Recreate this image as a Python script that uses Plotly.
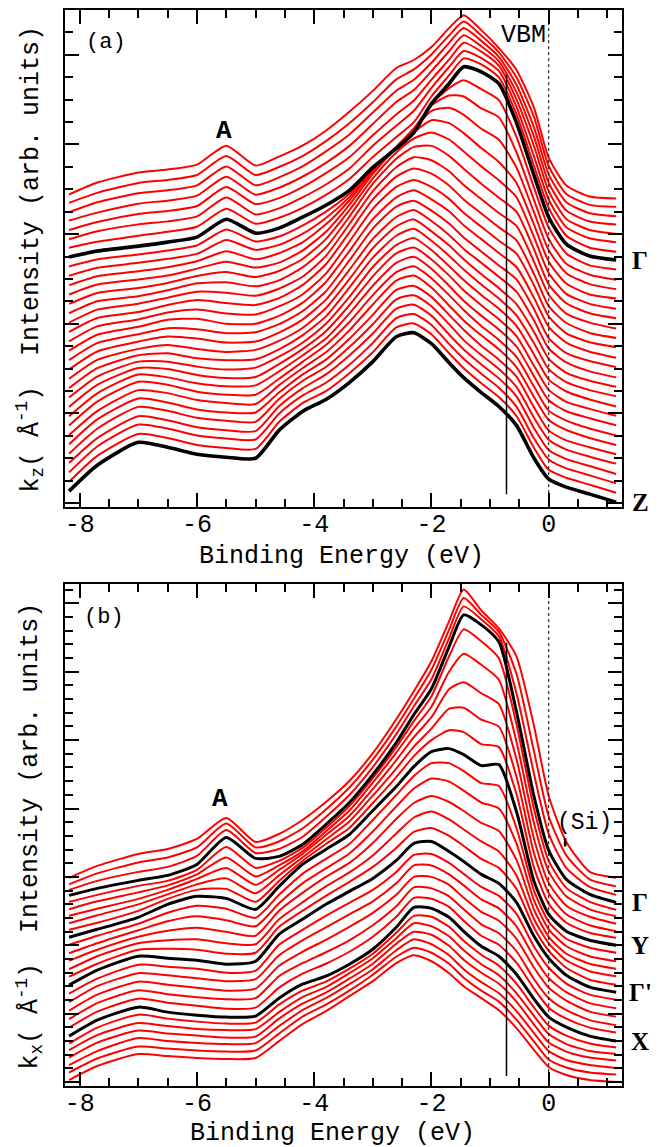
import plotly.graph_objects as go

energy = [-8.18, -7.7, -7.0, -6.5, -6.0, -5.5, -5.0, -4.6, -4.2, -3.8, -3.4, -3.0, -2.6,
          -2.3, -2.0, -1.7, -1.45, -1.15, -0.85, -0.55, -0.25, 0.0, 0.3, 0.7, 1.15]

# (a) kz series, top spectrum first, Z last (intensity, arb. units)
kz_spectra = [
    [13, 25, 35, 38, 43, 62, 42, 51, 62, 77, 96, 117, 140, 148, 161, 180, 193, 178, 160, 138, 100, 50, 22, 11, 9],
    [14, 24, 34, 37, 42, 61, 42, 50, 61, 76, 94, 115, 138, 148, 163, 182, 196, 182, 165, 140, 100, 51, 23, 12, 10],
    [14, 24, 33, 36, 41, 60, 41, 49, 60, 75, 92, 114, 136, 147, 164, 184, 199, 186, 170, 142, 99, 52, 24, 13, 10],
    [15, 23, 32, 35, 40, 59, 41, 48, 59, 73, 90, 112, 134, 146, 165, 185, 201, 190, 175, 144, 99, 53, 25, 14, 11],
    [15, 23, 31, 34, 39, 58, 41, 47, 58, 72, 88, 110, 131, 145, 166, 186, 203, 194, 180, 146, 99, 54, 26, 15, 11],
    [15, 23, 30, 33, 38, 57, 40, 46, 57, 70, 86, 109, 129, 144, 167, 188, 204, 197, 184, 148, 98, 55, 27, 16, 12],
    [16, 22, 28, 32, 37, 55, 40, 46, 56, 69, 85, 107, 127, 142, 168, 189, 206, 200, 187, 150, 98, 56, 28, 16, 12],
    [16, 22, 27, 31, 36, 54, 40, 45, 56, 68, 83, 106, 125, 141, 170, 190, 207, 202, 190, 151, 98, 56, 29, 17, 13],
    [16, 23, 28, 32, 37, 53, 41, 46, 57, 71, 89, 114, 135, 153, 179, 195, 203, 194, 183, 146, 95, 55, 29, 17, 13],
    [16, 24, 29, 33, 38, 52, 42, 47, 58, 74, 95, 122, 145, 164, 187, 197, 196, 184, 175, 140, 92, 53, 28, 17, 12],
    [16, 25, 30, 34, 40, 50, 42, 48, 59, 77, 101, 130, 155, 173, 191, 194, 187, 173, 162, 134, 89, 51, 28, 17, 12],
    [16, 26, 31, 35, 42, 49, 43, 48, 60, 79, 106, 137, 163, 179, 191, 188, 178, 163, 149, 128, 86, 49, 27, 16, 12],
    [16, 27, 32, 37, 44, 48, 43, 49, 61, 81, 110, 142, 168, 182, 188, 181, 169, 154, 140, 123, 83, 47, 26, 16, 11],
    [16, 28, 33, 39, 46, 47, 43, 49, 62, 82, 113, 146, 171, 183, 184, 174, 161, 146, 132, 118, 80, 45, 26, 16, 11],
    [16, 29, 35, 41, 47, 46, 43, 50, 62, 83, 115, 148, 172, 182, 179, 168, 154, 140, 126, 113, 77, 44, 25, 16, 10],
    [16, 30, 36, 43, 48, 45, 43, 50, 63, 84, 116, 149, 172, 180, 175, 163, 149, 135, 121, 108, 74, 42, 25, 15, 10],
    [16, 31, 38, 45, 48, 44, 43, 51, 63, 84, 116, 149, 171, 178, 171, 159, 145, 131, 117, 104, 72, 41, 24, 15, 10],
    [16, 32, 40, 47, 48, 43, 43, 51, 64, 85, 116, 148, 170, 177, 168, 156, 142, 128, 114, 100, 69, 40, 24, 15, 9],
    [16, 33, 42, 48, 47, 43, 44, 52, 65, 85, 116, 148, 170, 176, 166, 153, 139, 125, 111, 97, 67, 38, 23, 15, 9],
    [16, 34, 44, 49, 47, 43, 44, 53, 66, 86, 116, 147, 169, 176, 165, 151, 137, 123, 109, 94, 65, 37, 23, 14, 8],
    [16, 35, 46, 50, 46, 43, 45, 54, 67, 87, 116, 147, 169, 176, 164, 150, 136, 121, 107, 91, 63, 36, 22, 14, 8],
    [16, 36, 49, 51, 46, 44, 45, 55, 69, 88, 117, 147, 169, 176, 164, 149, 135, 120, 106, 89, 61, 35, 22, 14, 8],
    [16, 37, 52, 52, 47, 44, 46, 57, 71, 90, 117, 147, 169, 176, 164, 148, 134, 119, 105, 88, 59, 34, 22, 14, 7],
    [16, 38, 55, 54, 48, 45, 46, 59, 74, 92, 118, 147, 170, 176, 164, 148, 133, 118, 104, 87, 57, 33, 21, 14, 7],
    [16, 39, 58, 55, 49, 46, 47, 61, 77, 94, 119, 147, 170, 176, 164, 147, 132, 117, 103, 86, 56, 32, 21, 14, 7],
    [16, 40, 60, 57, 50, 47, 47, 63, 80, 97, 120, 147, 170, 176, 164, 147, 132, 116, 102, 85, 55, 31, 21, 13, 6],
    [16, 40, 61, 58, 51, 48, 47, 66, 83, 99, 121, 147, 171, 176, 164, 146, 131, 116, 102, 84, 54, 31, 21, 13, 6],
    [16, 41, 62, 58, 51, 48, 48, 68, 86, 101, 122, 146, 171, 175, 164, 146, 131, 115, 101, 84, 53, 30, 20, 13, 6],
    [16, 41, 63, 59, 52, 49, 48, 71, 89, 103, 123, 146, 171, 175, 164, 146, 130, 115, 101, 83, 52, 30, 20, 13, 6],
    [16, 41, 63, 59, 52, 49, 48, 73, 91, 105, 124, 146, 171, 175, 164, 145, 130, 115, 101, 83, 51, 29, 20, 13, 5],
    [16, 42, 64, 60, 53, 50, 49, 75, 93, 106, 124, 146, 171, 175, 164, 145, 130, 115, 101, 82, 50, 29, 20, 13, 5],
    [16, 42, 64, 60, 53, 50, 49, 76, 95, 107, 125, 146, 171, 175, 164, 145, 130, 115, 101, 82, 50, 28, 20, 13, 5],
    [16, 42, 65, 60, 53, 50, 49, 77, 96, 108, 125, 146, 171, 175, 164, 145, 130, 115, 101, 82, 49, 28, 20, 13, 5],
]
kz_black = [7, 32]          # Gamma, Z
kz_labels = {7: "Γ", 32: "Z"}
kz_step = 9.4

# (b) kx series, top spectrum first
kx_spectra = [
    [6, 18, 30, 35, 45, 66, 42, 50, 64, 82, 103, 131, 165, 193, 223, 263, 295, 274, 256, 228, 158, 88, 42, 12, 6],
    [7, 18, 29, 34, 44, 68, 44, 50, 63, 82, 104, 132, 165, 193, 222, 262, 294, 277, 260, 218, 140, 75, 36, 12, 5],
    [9, 18, 27, 32, 43, 69, 46, 50, 62, 82, 104, 132, 165, 193, 220, 261, 293, 280, 263, 206, 125, 65, 31, 12, 4],
    [11, 18, 26, 31, 42, 69, 48, 50, 62, 82, 104, 132, 164, 192, 218, 260, 292, 282, 265, 195, 110, 56, 27, 12, 4],
    [12, 19, 28, 33, 44, 67, 46, 53, 66, 86, 108, 136, 167, 193, 218, 258, 285, 273, 256, 190, 105, 53, 26, 12, 4],
    [12, 20, 29, 36, 47, 64, 45, 56, 70, 90, 111, 139, 169, 193, 215, 250, 268, 257, 242, 180, 98, 50, 25, 12, 5],
    [13, 20, 30, 39, 50, 61, 44, 59, 75, 94, 113, 140, 169, 192, 212, 240, 247, 236, 225, 170, 90, 46, 23, 12, 5],
    [13, 21, 32, 42, 52, 58, 43, 61, 79, 97, 115, 141, 168, 190, 208, 228, 229, 217, 210, 160, 83, 43, 22, 11, 5],
    [14, 21, 33, 45, 54, 55, 42, 63, 83, 100, 116, 141, 167, 188, 204, 214, 212, 200, 197, 150, 76, 40, 21, 11, 6],
    [14, 22, 34, 47, 55, 53, 42, 65, 87, 102, 117, 141, 165, 185, 200, 203, 197, 186, 187, 140, 70, 37, 20, 11, 6],
    [14, 23, 35, 46, 53, 50, 41, 64, 85, 100, 115, 139, 164, 183, 196, 196, 188, 176, 173, 131, 68, 37, 20, 11, 6],
    [13, 23, 36, 45, 50, 46, 40, 63, 83, 98, 113, 135, 160, 178, 188, 185, 176, 164, 158, 123, 66, 37, 20, 10, 5],
    [13, 24, 37, 43, 46, 42, 38, 63, 81, 97, 111, 131, 155, 171, 178, 172, 163, 151, 143, 114, 64, 37, 20, 10, 5],
    [12, 25, 38, 41, 42, 38, 37, 62, 79, 95, 109, 126, 148, 164, 170, 162, 152, 140, 130, 106, 62, 38, 21, 10, 5],
    [12, 25, 39, 40, 39, 35, 36, 62, 78, 93, 107, 122, 141, 157, 161, 153, 143, 130, 121, 100, 61, 38, 21, 9, 4],
    [11, 26, 40, 38, 36, 32, 35, 62, 77, 92, 105, 118, 136, 153, 155, 145, 135, 122, 113, 94, 60, 38, 21, 9, 4],
    [10, 25, 39, 37, 35, 31, 33, 59, 74, 88, 101, 114, 132, 149, 150, 141, 130, 117, 108, 90, 57, 36, 20, 9, 4],
    [9, 25, 38, 36, 33, 30, 32, 56, 71, 84, 97, 110, 128, 146, 146, 137, 126, 112, 103, 85, 54, 33, 19, 8, 3],
    [8, 24, 37, 34, 31, 28, 30, 53, 67, 79, 92, 106, 124, 142, 142, 134, 121, 107, 98, 80, 51, 31, 18, 7, 2],
    [7, 23, 36, 32, 29, 27, 28, 50, 63, 74, 86, 101, 120, 139, 138, 130, 117, 102, 93, 75, 47, 28, 16, 6, 1],
    [6, 22, 35, 31, 28, 25, 26, 46, 60, 70, 82, 97, 117, 136, 135, 127, 113, 98, 89, 71, 45, 26, 15, 6, 1],
    [5, 21, 34, 29, 26, 24, 25, 43, 57, 65, 77, 92, 114, 134, 133, 124, 110, 95, 85, 67, 42, 24, 14, 5, 0],
    [5, 21, 34, 30, 27, 25, 26, 44, 58, 67, 80, 95, 116, 133, 132, 122, 108, 94, 83, 65, 41, 23, 13, 5, 1],
    [6, 21, 33, 30, 27, 26, 27, 44, 59, 69, 83, 98, 118, 133, 130, 120, 106, 92, 81, 63, 40, 22, 12, 5, 2],
    [6, 21, 33, 30, 28, 26, 27, 45, 60, 71, 85, 100, 120, 132, 129, 118, 104, 91, 80, 62, 39, 21, 12, 6, 3],
    [6, 20, 33, 30, 28, 27, 28, 45, 61, 73, 87, 102, 121, 132, 127, 116, 102, 89, 78, 60, 38, 20, 11, 6, 3],
    [6, 20, 32, 30, 28, 27, 28, 45, 62, 74, 88, 104, 122, 131, 126, 115, 101, 88, 77, 59, 37, 19, 11, 6, 4],
    [6, 20, 32, 30, 28, 27, 28, 45, 62, 75, 90, 105, 123, 131, 125, 113, 100, 88, 76, 58, 36, 19, 11, 6, 4],
]
kx_black = [3, 9, 15, 21]   # Gamma, Y, Gamma', X
kx_labels = {3: "Γ", 9: "Y", 15: "Γ'", 21: "X"}
kx_step = 7.5

vbm = -0.72
si_energy = 0.28

mono = "Courier New, Nimbus Mono PS, FreeMono, Liberation Mono, monospace"
serif = "Liberation Serif, Times New Roman, serif"

# page has an 8px body margin, so the figure is sized / placed to compensate
W, H = 656, 1139
L, R, T, B = 57, 42, 0, 61


def px(xp, yp):
    # page pixel -> paper coords
    return (xp - 65) / (W - L - R), (1086 - yp) / (H - T - B)


def add_stack(fig, spectra, step, black, xa, ya, black_width):
    n = len(spectra)
    # red ones first so the black reference spectra sit on top
    order = [k for k in range(n) if k not in black] + list(black)
    for k in order:
        y = [v + (n - 1 - k) * step for v in spectra[k]]
        if k in black:
            line = dict(color="black", width=black_width, shape="spline", smoothing=0.6)
        else:
            line = dict(color="#ff0000", width=2.0, shape="spline", smoothing=0.6)
        fig.add_trace(go.Scatter(x=energy, y=y, mode="lines", line=line,
                                 xaxis=xa, yaxis=ya, hoverinfo="skip", showlegend=False))


def x_axis(anchor):
    return dict(anchor=anchor, range=[-8.25, 1.25],
                tickvals=[-8, -6, -4, -2, 0], ticktext=["-8", "-6", "-4", "-2", "0"],
                ticks="inside", ticklen=14, tickwidth=1.5, tickcolor="black",
                minor=dict(tick0=0, dtick=0.5, ticks="inside", ticklen=8, tickwidth=1.5, tickcolor="black"),
                showline=True, linewidth=2, linecolor="black", mirror="ticks",
                showgrid=False, zeroline=False, ticklabelstandoff=-7,
                tickfont=dict(family=mono, size=25, color="black"))


def y_axis(anchor, domain, top, major, minor):
    return dict(anchor=anchor, domain=domain, range=[0, top],
                tickmode="linear", tick0=4, dtick=major, showticklabels=False,
                ticks="inside", ticklen=14, tickwidth=1.5, tickcolor="black",
                minor=dict(tick0=4, dtick=minor, ticks="inside", ticklen=8, tickwidth=1.5, tickcolor="black"),
                showline=True, linewidth=2, linecolor="black", mirror="ticks",
                showgrid=False, zeroline=False)


fig = go.Figure()
add_stack(fig, kz_spectra, kz_step, kz_black, "x", "y", 3.6)
add_stack(fig, kx_spectra, kx_step, kx_black, "x2", "y2", 3.0)

# VBM marker (solid) and E = 0 (dotted)
for xa, ya, lo, hi, top in [("x", "y", 13, 434, 499), ("x2", "y2", 10, 444, 503)]:
    fig.add_shape(type="line", xref=xa, yref=ya, x0=vbm, x1=vbm, y0=lo, y1=hi,
                  line=dict(color="black", width=1.5))
    fig.add_shape(type="line", xref=xa, yref=ya, x0=0, x1=0, y0=8, y1=top,
                  line=dict(color="black", width=1, dash="dot"))
fig.add_shape(type="line", xref="x2", yref="y2", x0=si_energy, x1=si_energy, y0=240, y1=248,
              line=dict(color="black", width=2.5))

small = dict(family=mono, size=22, color="black")
mid = dict(family=mono, size=25, color="black")
big = dict(family=mono, size=26, color="black")
lab = dict(family=serif, size=25, color="black")
notes = [
    ("x", "y", -7.55, 466, "(a)", small),
    ("x", "y", -0.43, 473, "VBM", mid),
    ("x", "y", -5.54, 378, "<b>A</b>", big),
    ("x2", "y2", -7.58, 469, "(b)", small),
    ("x2", "y2", -5.6, 288, "<b>A</b>", big),
    ("x2", "y2", 0.61, 263, "(Si)", dict(family=mono, size=23, color="black")),
]
for xr, yr, x, y, t, f in notes:
    fig.add_annotation(xref=xr, yref=yr, x=x, y=y, text=t, font=f, showarrow=False,
                       xanchor="center", yanchor="middle")

# point labels to the right of the frames
lx = px(640, 0)[0]
for k, name in kz_labels.items():
    fig.add_annotation(xref="paper", yref="y", x=lx,
                       y=kz_spectra[k][-1] + (len(kz_spectra) - 1 - k) * kz_step,
                       text="<b>%s</b>" % name, font=lab, showarrow=False, xanchor="center", yanchor="middle")
for k, name in kx_labels.items():
    fig.add_annotation(xref="paper", yref="y2", x=lx,
                       y=kx_spectra[k][-1] + (len(kx_spectra) - 1 - k) * kx_step,
                       text="<b>%s</b>" % name, font=lab, showarrow=False, xanchor="center", yanchor="middle")

# axis titles
for (xp, yp), text, ang in [
    (px(341, 556), "Binding Energy (eV)", 0),
    (px(332, 1134), "Binding Energy (eV)", 0),
    (px(30, 258), "k<sub>z</sub>( Å<sup>-1</sup>)  Intensity (arb. units)", -90),
    (px(30, 836), "k<sub>x</sub>( Å<sup>-1</sup>)  Intensity (arb. units)", -90),
]:
    fig.add_annotation(xref="paper", yref="paper", x=xp, y=yp, text=text, textangle=ang,
                       font=mid, showarrow=False, xanchor="center", yanchor="middle")

fig.update_layout(
    width=W, height=H,
    margin=dict(l=L, r=R, t=T, b=B),
    plot_bgcolor="white", paper_bgcolor="white",
    showlegend=False,
    xaxis=x_axis("y"),
    yaxis=y_axis("x", [px(0, 506)[1], 1.0], 499, 90, 22.5),
    xaxis2=x_axis("y2"),
    yaxis2=y_axis("x2", [0.0, px(0, 583)[1]], 503, 68.5, 13.7),
)

fig.write_html("out.html")
